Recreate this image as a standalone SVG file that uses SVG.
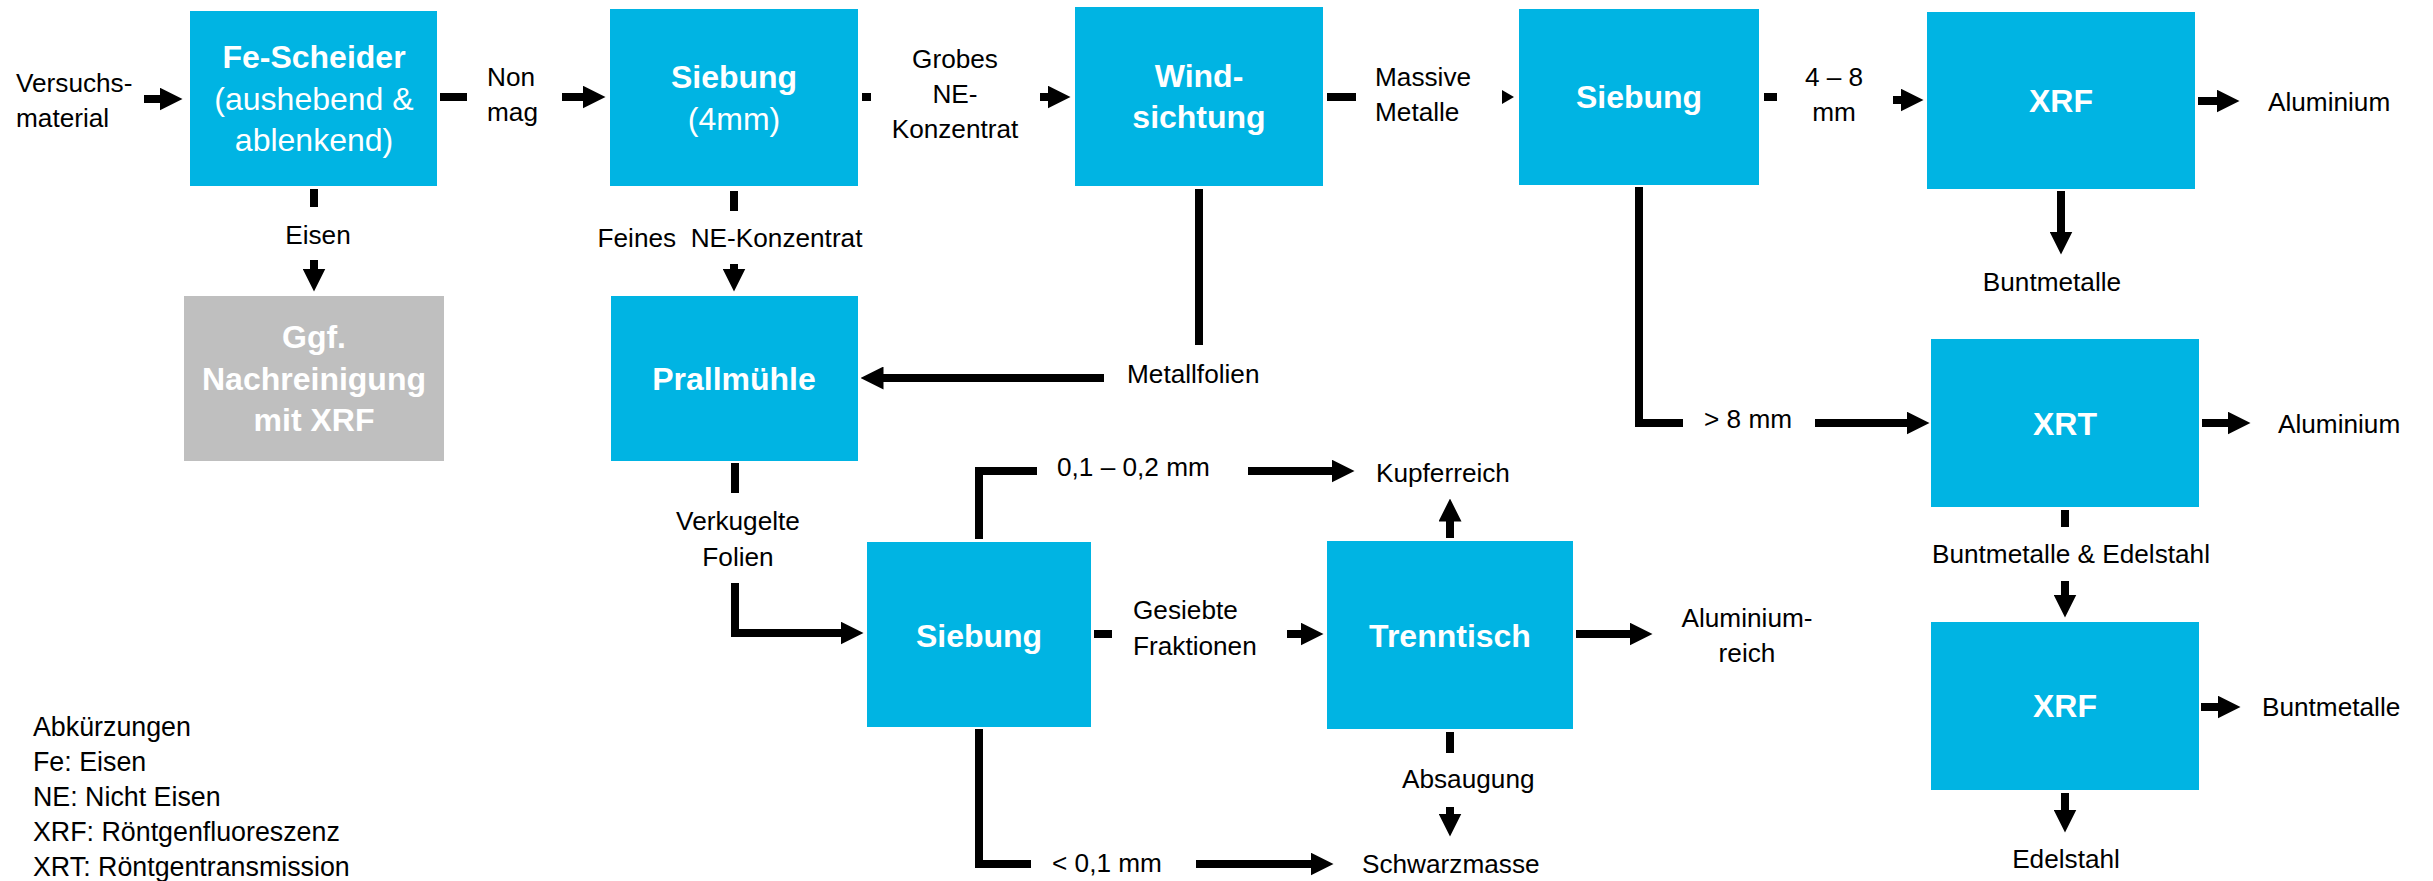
<svg xmlns="http://www.w3.org/2000/svg" width="2433" height="881" viewBox="0 0 2433 881">
<style>
.box{fill:#00B4E3}
.gray{fill:#BFBFBF}
.t{font-family:"Liberation Sans",Arial,sans-serif;fill:#fff;font-size:32px;text-anchor:middle}
.b{font-weight:bold}
.l{font-family:"Liberation Sans",Arial,sans-serif;fill:#000;font-size:26.2px}
.lg{font-size:26.8px}
.m{text-anchor:middle}
.c{fill:none;stroke:#000;stroke-width:8;stroke-linecap:butt;stroke-linejoin:miter}
.a{marker-end:url(#ah)}
</style>
<defs>
<marker id="ah" markerUnits="userSpaceOnUse" markerWidth="23" markerHeight="23" viewBox="0 0 23 23" refX="0.5" refY="11.5" orient="auto">
<path d="M0,0 L23,11.5 L0,23 Z" fill="#000"/>
</marker>
</defs>
<rect width="2433" height="881" fill="#fff"/>

<g id="fe-scheider"><rect class="box" x="190" y="11" width="247" height="175"/>
<text class="t b" x="314" y="68">Fe-Scheider</text>
<text class="t" x="314" y="110">(aushebend &amp;</text>
<text class="t" x="314" y="151">ablenkend)</text></g>

<g id="nachreinigung"><rect class="gray" x="184" y="296" width="260" height="165"/>
<text class="t b" x="314" y="348">Ggf.</text>
<text class="t b" x="314" y="390">Nachreinigung</text>
<text class="t b" x="314" y="431">mit XRF</text></g>

<g id="siebung1"><rect class="box" x="610" y="9" width="248" height="177"/>
<text class="t b" x="734" y="88">Siebung</text>
<text class="t" x="734" y="130">(4mm)</text></g>

<g id="windsichtung"><rect class="box" x="1075" y="7" width="248" height="179"/>
<text class="t b" x="1199" y="87">Wind-</text>
<text class="t b" x="1199" y="128">sichtung</text></g>

<g id="siebung2"><rect class="box" x="1519" y="9" width="240" height="176"/>
<text class="t b" x="1639" y="108">Siebung</text></g>

<g id="xrf1"><rect class="box" x="1927" y="12" width="268" height="177"/>
<text class="t b" x="2061" y="112">XRF</text></g>

<g id="xrt"><rect class="box" x="1931" y="339" width="268" height="168"/>
<text class="t b" x="2065" y="435">XRT</text></g>

<g id="xrf2"><rect class="box" x="1931" y="622" width="268" height="168"/>
<text class="t b" x="2065" y="717">XRF</text></g>

<g id="prallmuehle"><rect class="box" x="611" y="296" width="247" height="165"/>
<text class="t b" x="734" y="390">Prallmühle</text></g>

<g id="siebung3"><rect class="box" x="867" y="542" width="224" height="185"/>
<text class="t b" x="979" y="647">Siebung</text></g>

<g id="trenntisch"><rect class="box" x="1327" y="541" width="246" height="188"/>
<text class="t b" x="1450" y="647">Trenntisch</text></g>

<g id="connectors">
<path class="c a" d="M144,99 H160"/>
<path class="c" d="M440,97 H467"/>
<path class="c a" d="M562,97 H583"/>
<path class="c" d="M314,189 V207"/>
<path class="c a" d="M314,260 V269"/>
<path class="c" d="M862,97 H871"/>
<path class="c a" d="M1040,97 H1048"/>
<path class="c" d="M734,191 V211"/>
<path class="c a" d="M734,264 V269"/>
<path class="c" d="M1199,189 V345"/>
<path class="c a" d="M1104,378 H883"/>
<path class="c" d="M1327,97 H1356"/>
<path d="M1502,90 L1514,97 L1502,104 Z" fill="#000"/>
<path class="c" d="M1764,97 H1777"/>
<path class="c a" d="M1893,100 H1901"/>
<path class="c a" d="M2198,101 H2217"/>
<path class="c a" d="M2061,191 V232"/>
<path class="c" d="M1639,187 V423 H1683"/>
<path class="c a" d="M1815,423 H1907"/>
<path class="c a" d="M2202,423 H2228"/>
<path class="c" d="M2065,510 V527"/>
<path class="c a" d="M2065,581 V595"/>
<path class="c a" d="M2201,707 H2218"/>
<path class="c a" d="M2065,793 V810"/>
<path class="c" d="M735,463 V493"/>
<path class="c a" d="M735,583 V633 H841"/>
<path class="c" d="M979,539 V471 H1037"/>
<path class="c a" d="M1248,471 H1332"/>
<path class="c a" d="M1450,538 V521"/>
<path class="c" d="M1094,634 H1112"/>
<path class="c a" d="M1287,634 H1301"/>
<path class="c a" d="M1576,634 H1630"/>
<path class="c" d="M1450,732 V753"/>
<path class="c a" d="M1450,807 V814"/>
<path class="c" d="M979,729 V864 H1031"/>
<path class="c a" d="M1196,864 H1311"/>
</g>

<g id="labels">
<text class="l" x="16" y="92">Versuchs-</text>
<text class="l" x="16" y="127">material</text>
<text class="l" x="487" y="86">Non</text>
<text class="l" x="487" y="121">mag</text>
<text class="l m" x="318" y="244">Eisen</text>
<text class="l m" x="955" y="68">Grobes</text>
<text class="l m" x="955" y="103">NE-</text>
<text class="l m" x="955" y="138">Konzentrat</text>
<text class="l m" x="730" y="247" xml:space="preserve">Feines  NE-Konzentrat</text>
<text class="l" x="1375" y="86">Massive</text>
<text class="l" x="1375" y="121">Metalle</text>
<text class="l m" x="1834" y="86">4 – 8</text>
<text class="l m" x="1834" y="121">mm</text>
<text class="l" x="2268" y="111">Aluminium</text>
<text class="l m" x="2052" y="291">Buntmetalle</text>
<text class="l" x="1127" y="383">Metallfolien</text>
<text class="l" x="1704" y="428">&gt; 8 mm</text>
<text class="l" x="2278" y="433">Aluminium</text>
<text class="l m" x="2071" y="563">Buntmetalle &amp; Edelstahl</text>
<text class="l" x="2262" y="716">Buntmetalle</text>
<text class="l m" x="2066" y="868">Edelstahl</text>
<text class="l m" x="1747" y="627">Aluminium-</text>
<text class="l m" x="1747" y="662">reich</text>
<text class="l m" x="738" y="530">Verkugelte</text>
<text class="l m" x="738" y="566">Folien</text>
<text class="l" x="1057" y="476">0,1 – 0,2 mm</text>
<text class="l" x="1376" y="482">Kupferreich</text>
<text class="l" x="1133" y="619">Gesiebte</text>
<text class="l" x="1133" y="655">Fraktionen</text>
<text class="l" x="1402" y="788">Absaugung</text>
<text class="l" x="1362" y="873">Schwarzmasse</text>
<text class="l" x="1052" y="872">&lt; 0,1 mm</text>
</g>

<g id="legend">
<text class="l lg" x="33" y="736">Abkürzungen</text>
<text class="l lg" x="33" y="771">Fe: Eisen</text>
<text class="l lg" x="33" y="806">NE: Nicht Eisen</text>
<text class="l lg" x="33" y="841">XRF: Röntgenfluoreszenz</text>
<text class="l lg" x="33" y="876">XRT: Röntgentransmission</text>
</g>
</svg>
